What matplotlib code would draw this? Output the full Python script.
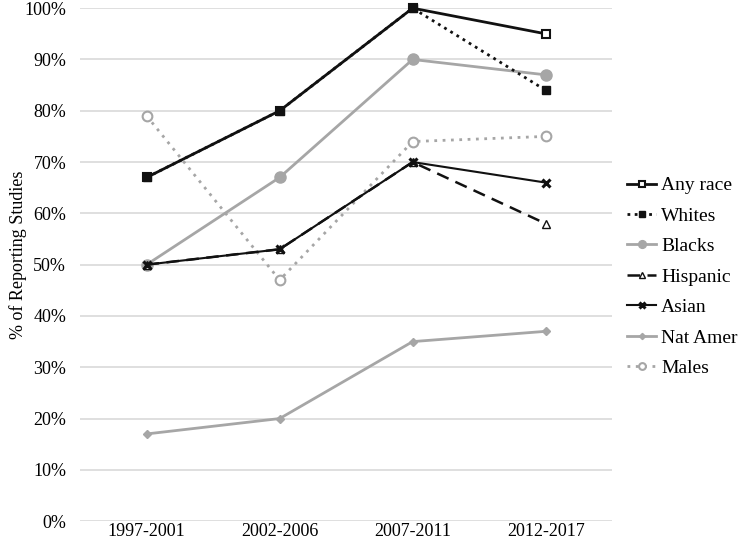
import matplotlib
matplotlib.use("Agg")
from matplotlib import pyplot

pyplot.rcParams["font.family"] = ["Liberation Serif", "DejaVu Serif"]

periods = ["1997-2001", "2002-2006", "2007-2011", "2012-2017"]
any_race = [67, 80, 100, 95]
whites = [67, 80, 100, 84]
blacks = [50, 67, 90, 87]
hispanic = [50, 53, 70, 58]
asian = [50, 53, 70, 66]
nat_amer = [17, 20, 35, 37]
males = [79, 47, 74, 75]

black = "#111111"
gray = "#a6a6a6"

fig = pyplot.figure(figsize=(7.42, 5.44), dpi=100)
ax = fig.add_axes([0.108, 0.042, 0.717, 0.943])
x = range(len(periods))

ax.plot(x, nat_amer, color=gray, lw=2, marker="D", ms=4.5, label="Nat Amer", zorder=3)
ax.plot(x, males, color=gray, lw=2, ls=(0, (1, 2)), marker="o", ms=7,
        mfc="white", mec=gray, mew=1.5, label="Males", zorder=3)
ax.plot(x, blacks, color=gray, lw=2, marker="o", ms=8, label="Blacks", zorder=3)
ax.plot(x, hispanic, color=black, lw=1.8, ls=(0, (5, 3)), marker="^", ms=6,
        mfc="white", mec=black, mew=1, label="Hispanic", zorder=4)
ax.plot(x, asian, color=black, lw=1.5, marker="x", ms=6, mew=2.2, label="Asian", zorder=5)
ax.plot(x, any_race, color=black, lw=2, marker="s", ms=6, mfc="white",
        mec=black, mew=1.5, label="Any race", zorder=5, clip_on=False)
ax.plot(x, whites, color=black, lw=2, ls=(0, (1, 1.6)), marker="s", ms=6,
        label="Whites", zorder=6, clip_on=False)

ax.set_xlim(-0.5, len(periods) - 0.5)
ax.set_ylim(0, 100)
ax.set_xticks(list(x))
ax.set_xticklabels(periods)
ax.set_yticks(range(0, 101, 10))
ax.set_yticklabels([f"{v}%" for v in range(0, 101, 10)])
ax.tick_params(labelsize=13, length=0)
ax.tick_params(axis="y", pad=10)
ax.tick_params(axis="x", pad=1)
ax.yaxis.grid(True, color="#d9d9d9", lw=1.2)
ax.set_axisbelow(True)
for s in ax.spines.values():
    s.set_visible(False)
ax.set_ylabel("% of Reporting Studies", fontsize=13)
ax.yaxis.set_label_coords(-0.1, 0.52)

handles, labels = ax.get_legend_handles_labels()
order = ["Any race", "Whites", "Blacks", "Hispanic", "Asian", "Nat Amer", "Males"]
lookup = dict(zip(labels, handles))
fig.legend(
    [lookup[k] for k in order],
    order,
    loc="center left",
    bbox_to_anchor=(0.845, 0.491),
    frameon=False,
    fontsize=14,
    handlelength=1.5,
    handletextpad=0.25,
    labelspacing=0.66,
    markerscale=0.7,
    borderaxespad=0,
    borderpad=0,
)

pyplot.savefig("out.png", dpi=100)
